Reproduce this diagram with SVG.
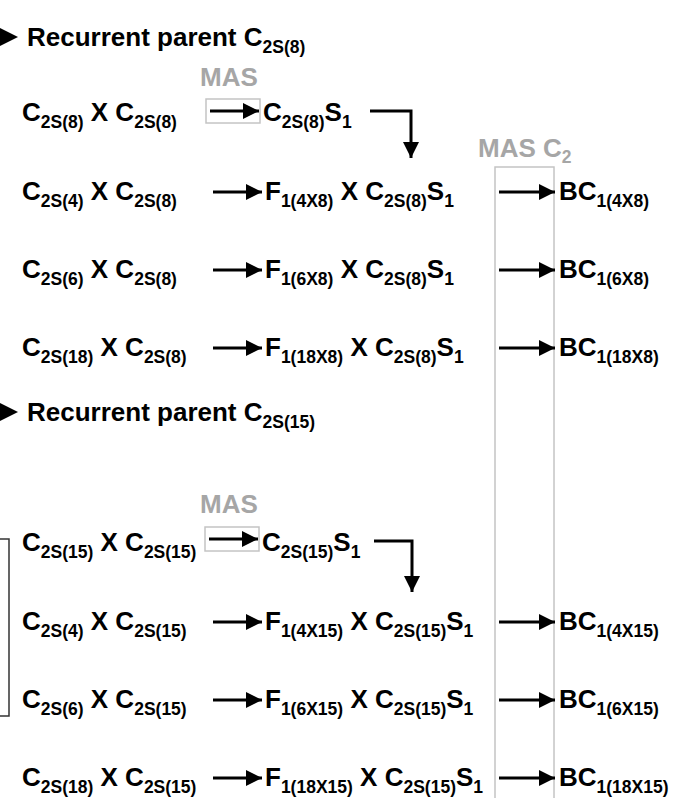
<svg xmlns="http://www.w3.org/2000/svg" width="677" height="798" viewBox="0 0 677 798">
<defs>
<style>
.t{font-family:"Liberation Sans",Arial,Helvetica,sans-serif;font-weight:bold;font-size:26px;fill:#000}
.s{font-size:17.5px}
.g{fill:#a6a6a6}
.ln{stroke:#000;stroke-width:3;fill:none}
.box{stroke:#c4c4c4;stroke-width:1.5;fill:none}
</style>
<marker id="ah" viewBox="0 0 10 10" refX="10" refY="5" markerWidth="5.5" markerHeight="5.5" markerUnits="strokeWidth" orient="auto">
<path d="M0,0 L10,5 L0,10 z" fill="#000"/>
</marker>
</defs>
<rect width="677" height="798" fill="#fff"/>

<g id="col-mas-c2">
<rect class="box" x="495" y="167" width="59" height="650"/>
<text class="t g" x="478" y="157">MAS C<tspan class="s" dy="6">2</tspan></text>
</g>

<g id="header1">
<polygon points="0,28 18,37 0,46" fill="#000"/>
<text class="t" x="27" y="46">Recurrent parent C<tspan class="s" dy="7">2S(8)</tspan></text>
</g>
<g id="mas1">
<text class="t g" x="200" y="86">MAS</text>
<rect class="box" x="206" y="99" width="54" height="24"/>
</g>
<g id="r1a"><text class="t" x="22" y="121">C<tspan class="s" dy="7">2S(8)</tspan><tspan dy="-7"> X C</tspan><tspan class="s" dy="7">2S(8)</tspan></text></g>
<g id="r1b"><text class="t" x="263" y="121">C<tspan class="s" dy="7">2S(8)</tspan><tspan dy="-7">S</tspan><tspan class="s" dy="7">1</tspan></text></g>

<g id="r2a"><text class="t" x="22" y="200">C<tspan class="s" dy="7">2S(4)</tspan><tspan dy="-7"> X C</tspan><tspan class="s" dy="7">2S(8)</tspan></text></g>
<g id="r2b"><text class="t" x="265" y="200">F<tspan class="s" dy="7">1(4X8)</tspan><tspan dy="-7"> X C</tspan><tspan class="s" dy="7">2S(8)</tspan><tspan dy="-7">S</tspan><tspan class="s" dy="7">1</tspan></text></g>
<g id="r2c"><text class="t" x="559" y="200">BC<tspan class="s" dy="7">1(4X8)</tspan></text></g>

<g id="r3a"><text class="t" x="22" y="278">C<tspan class="s" dy="7">2S(6)</tspan><tspan dy="-7"> X C</tspan><tspan class="s" dy="7">2S(8)</tspan></text></g>
<g id="r3b"><text class="t" x="265" y="278">F<tspan class="s" dy="7">1(6X8)</tspan><tspan dy="-7"> X C</tspan><tspan class="s" dy="7">2S(8)</tspan><tspan dy="-7">S</tspan><tspan class="s" dy="7">1</tspan></text></g>
<g id="r3c"><text class="t" x="559" y="278">BC<tspan class="s" dy="7">1(6X8)</tspan></text></g>

<g id="r4a"><text class="t" x="22" y="356">C<tspan class="s" dy="7">2S(18)</tspan><tspan dy="-7"> X C</tspan><tspan class="s" dy="7">2S(8)</tspan></text></g>
<g id="r4b"><text class="t" x="265" y="356">F<tspan class="s" dy="7">1(18X8)</tspan><tspan dy="-7"> X C</tspan><tspan class="s" dy="7">2S(8)</tspan><tspan dy="-7">S</tspan><tspan class="s" dy="7">1</tspan></text></g>
<g id="r4c"><text class="t" x="559" y="356">BC<tspan class="s" dy="7">1(18X8)</tspan></text></g>

<g id="header2">
<polygon points="0,403 18,412 0,421" fill="#000"/>
<text class="t" x="27" y="421">Recurrent parent C<tspan class="s" dy="7">2S(15)</tspan></text>
</g>
<g id="mas2">
<text class="t g" x="200" y="513">MAS</text>
<rect class="box" x="205" y="527" width="54" height="24"/>
</g>
<g id="bracket"><polyline points="0,539 9,539 9,716 0,716" style="stroke:#333;stroke-width:1.5;fill:none"/></g>

<g id="s1a"><text class="t" x="22" y="551">C<tspan class="s" dy="7">2S(15)</tspan><tspan dy="-7"> X C</tspan><tspan class="s" dy="7">2S(15)</tspan></text></g>
<g id="s1b"><text class="t" x="262" y="551">C<tspan class="s" dy="7">2S(15)</tspan><tspan dy="-7">S</tspan><tspan class="s" dy="7">1</tspan></text></g>

<g id="s2a"><text class="t" x="22" y="630">C<tspan class="s" dy="7">2S(4)</tspan><tspan dy="-7"> X C</tspan><tspan class="s" dy="7">2S(15)</tspan></text></g>
<g id="s2b"><text class="t" x="265" y="630">F<tspan class="s" dy="7">1(4X15)</tspan><tspan dy="-7"> X C</tspan><tspan class="s" dy="7">2S(15)</tspan><tspan dy="-7">S</tspan><tspan class="s" dy="7">1</tspan></text></g>
<g id="s2c"><text class="t" x="559" y="630">BC<tspan class="s" dy="7">1(4X15)</tspan></text></g>

<g id="s3a"><text class="t" x="22" y="708">C<tspan class="s" dy="7">2S(6)</tspan><tspan dy="-7"> X C</tspan><tspan class="s" dy="7">2S(15)</tspan></text></g>
<g id="s3b"><text class="t" x="265" y="708">F<tspan class="s" dy="7">1(6X15)</tspan><tspan dy="-7"> X C</tspan><tspan class="s" dy="7">2S(15)</tspan><tspan dy="-7">S</tspan><tspan class="s" dy="7">1</tspan></text></g>
<g id="s3c"><text class="t" x="559" y="708">BC<tspan class="s" dy="7">1(6X15)</tspan></text></g>

<g id="s4a"><text class="t" x="22" y="786">C<tspan class="s" dy="7">2S(18)</tspan><tspan dy="-7"> X C</tspan><tspan class="s" dy="7">2S(15)</tspan></text></g>
<g id="s4b"><text class="t" x="265" y="786">F<tspan class="s" dy="7">1(18X15)</tspan><tspan dy="-7"> X C</tspan><tspan class="s" dy="7">2S(15)</tspan><tspan dy="-7">S</tspan><tspan class="s" dy="7">1</tspan></text></g>
<g id="s4c"><text class="t" x="559" y="786">BC<tspan class="s" dy="7">1(18X15)</tspan></text></g>

<g id="connectors">
<line class="ln" x1="210" y1="111" x2="259" y2="111" marker-end="url(#ah)"/>
<path class="ln" d="M370,111 H411 V158" marker-end="url(#ah)"/>
<line class="ln" x1="213" y1="192" x2="262" y2="192" marker-end="url(#ah)"/>
<line class="ln" x1="499" y1="192" x2="555" y2="192" marker-end="url(#ah)"/>
<line class="ln" x1="213" y1="270" x2="262" y2="270" marker-end="url(#ah)"/>
<line class="ln" x1="499" y1="270" x2="555" y2="270" marker-end="url(#ah)"/>
<line class="ln" x1="213" y1="348" x2="262" y2="348" marker-end="url(#ah)"/>
<line class="ln" x1="499" y1="348" x2="555" y2="348" marker-end="url(#ah)"/>
<line class="ln" x1="209" y1="539" x2="258" y2="539" marker-end="url(#ah)"/>
<path class="ln" d="M374,541 H412 V592" marker-end="url(#ah)"/>
<line class="ln" x1="213" y1="622" x2="262" y2="622" marker-end="url(#ah)"/>
<line class="ln" x1="499" y1="622" x2="555" y2="622" marker-end="url(#ah)"/>
<line class="ln" x1="213" y1="700" x2="262" y2="700" marker-end="url(#ah)"/>
<line class="ln" x1="499" y1="700" x2="555" y2="700" marker-end="url(#ah)"/>
<line class="ln" x1="213" y1="778" x2="262" y2="778" marker-end="url(#ah)"/>
<line class="ln" x1="499" y1="778" x2="555" y2="778" marker-end="url(#ah)"/>
</g>
</svg>
